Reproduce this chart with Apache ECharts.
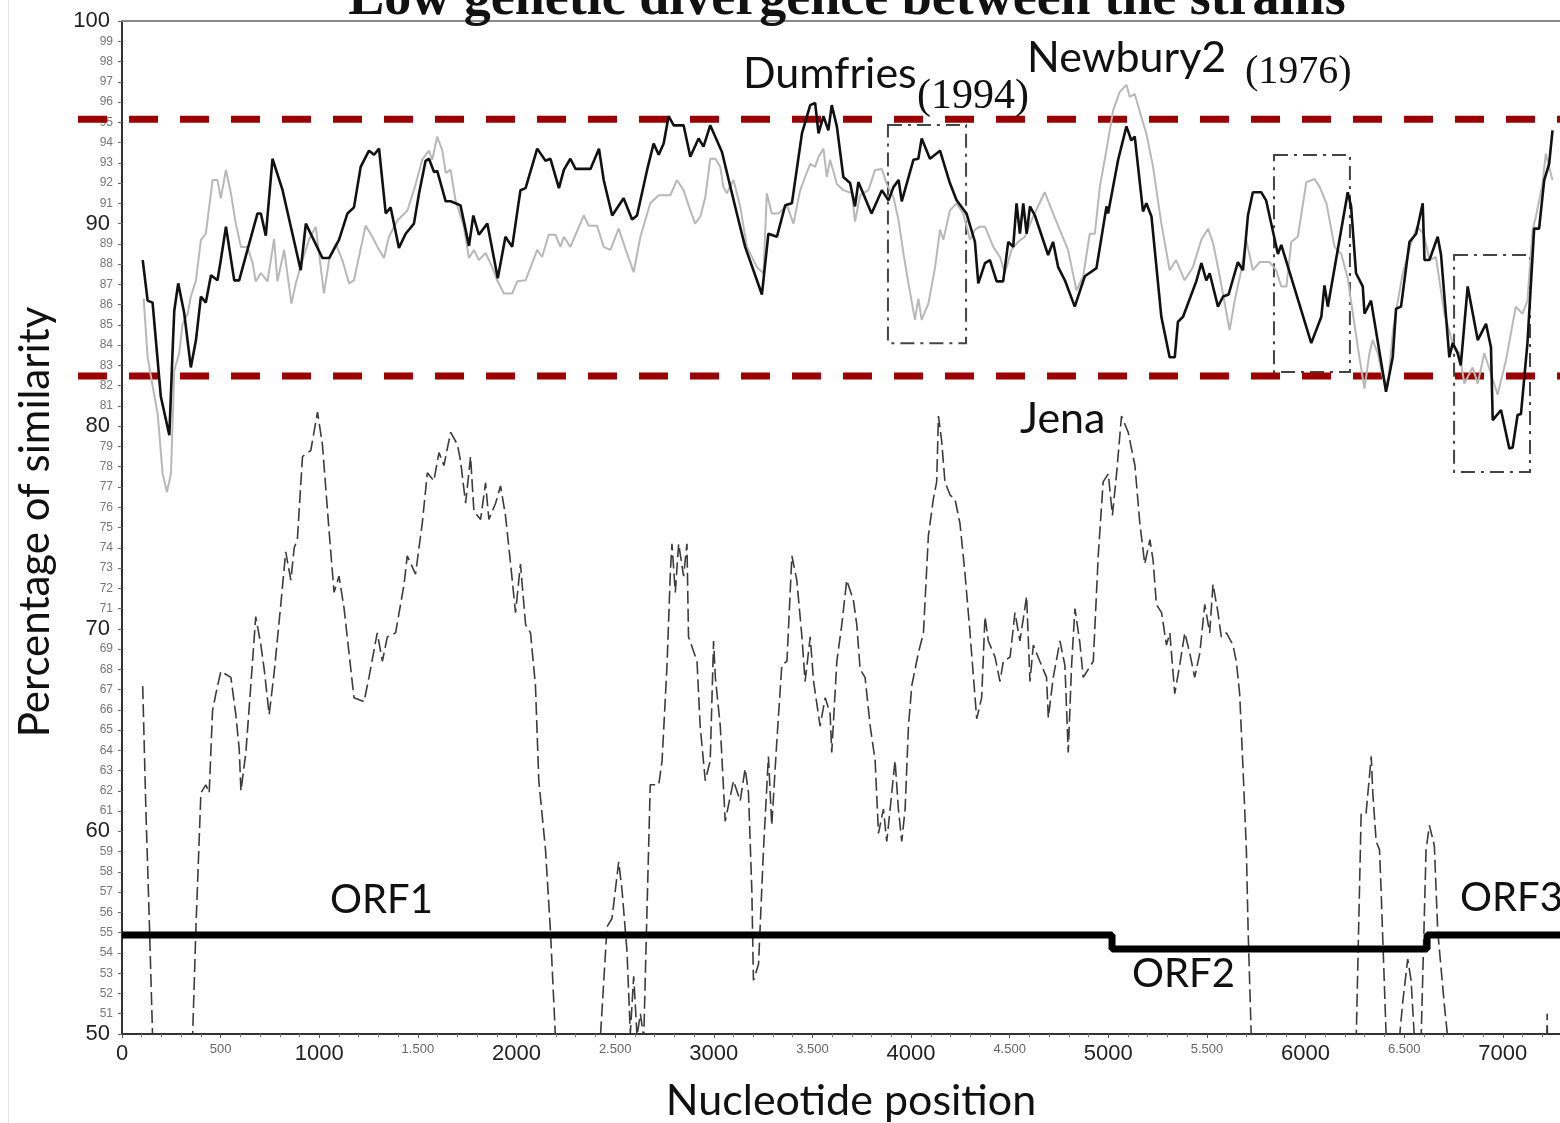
<!DOCTYPE html>
<html><head><meta charset="utf-8">
<script src="https://cdn.jsdelivr.net/npm/echarts@6.0.0/dist/echarts.min.js"></script>
<style>html,body{margin:0;padding:0;background:#fff}#c{width:1560px;height:1123px}</style>
</head><body><div id="c"></div>
<script>
// ---- data: [nucleotide position, % similarity] ----
const dumfries = [[105,88.2],[130,86.2],[155,86.1],[197,81.45],[240,79.55],[256,83.6],[265,85.7],[285,87.05],[315,85.6],[349,82.9],[375,84.25],[400,86.4],[425,86.1],[451,87.45],[484,87.2],[501,88.2],[527,89.85],[569,87.2],[594,87.2],[636,88.7],[687,90.5],[704,90.5],[729,89.4],[763,93.2],[814,91.65],[906,87.7],[932,90.0],[1016,88.3],[1050,88.3],[1100,89.2],[1143,90.5],[1176,90.8],[1210,92.8],[1252,93.6],[1278,93.4],[1303,93.7],[1337,90.5],[1362,90.8],[1404,88.8],[1438,89.5],[1480,90.0],[1506,91.5],[1539,93.1],[1556,93.2],[1582,92.55],[1598,92.6],[1641,91.1],[1666,91.1],[1716,90.9],[1759,88.9],[1781,90.4],[1809,89.45],[1852,90.0],[1905,87.3],[1944,89.35],[1978,88.85],[2020,91.65],[2046,91.75],[2105,93.7],[2147,93.1],[2172,93.2],[2215,91.75],[2240,92.65],[2273,93.2],[2299,92.7],[2375,92.7],[2418,93.7],[2442,92.15],[2485,90.4],[2543,91.25],[2586,90.2],[2611,90.4],[2662,92.65],[2695,93.95],[2721,93.4],[2746,93.95],[2771,95.3],[2797,94.85],[2847,94.85],[2881,93.3],[2923,94.2],[2948,93.8],[2982,94.85],[3041,93.55],[3117,90.5],[3159,88.85],[3201,87.7],[3244,86.5],[3277,89.5],[3320,89.35],[3362,90.9],[3396,91.0],[3447,94.45],[3489,95.85],[3514,95.95],[3531,94.45],[3556,95.3],[3581,94.6],[3598,95.85],[3624,94.8],[3657,92.3],[3691,92.0],[3716,90.85],[3733,92.05],[3800,90.5],[3852,91.65],[3886,91.15],[3911,91.8],[3937,92.15],[3953,91.1],[4012,93.15],[4037,93.2],[4054,94.2],[4096,93.2],[4147,93.6],[4197,92.0],[4231,91.15],[4281,90.5],[4324,89.1],[4341,87.05],[4375,88.05],[4400,88.2],[4434,87.15],[4467,87.15],[4493,89.1],[4518,88.85],[4535,91.0],[4552,89.5],[4569,91.0],[4586,89.5],[4603,90.85],[4628,90.4],[4695,88.45],[4720,89.1],[4746,87.85],[4780,87.2],[4830,85.9],[4881,87.4],[4940,87.8],[4991,90.85],[4999,90.5],[5050,93.15],[5092,94.8],[5117,94.1],[5134,94.3],[5176,90.6],[5193,91.0],[5219,90.35],[5269,85.4],[5311,83.4],[5337,83.4],[5353,85.15],[5379,85.4],[5446,87.15],[5472,88.05],[5497,87.2],[5514,87.55],[5556,85.9],[5582,86.4],[5610,86.5],[5657,88.1],[5683,87.7],[5708,90.4],[5733,91.55],[5775,91.55],[5800,91.15],[5860,88.5],[5877,88.95],[6029,84.1],[6080,85.4],[6096,86.95],[6113,85.9],[6214,91.55],[6231,90.85],[6256,87.55],[6290,86.9],[6299,85.55],[6332,86.2],[6408,81.7],[6442,83.4],[6459,85.8],[6484,85.9],[6527,89.1],[6561,89.5],[6594,91.0],[6603,88.2],[6628,88.2],[6670,89.35],[6687,88.45],[6729,83.4],[6746,84.1],[6771,83.6],[6787,83.0],[6822,86.9],[6873,84.25],[6915,85.05],[6940,83.9],[6949,80.3],[6991,80.8],[7033,78.9],[7050,78.95],[7075,80.55],[7092,80.6],[7125,84.1],[7159,89.75],[7184,89.75],[7210,92.15],[7235,92.95],[7252,94.6]];

const newbury2 = [[110,86.3],[130,83.4],[155,82.0],[181,80.6],[206,77.65],[228,76.75],[248,77.65],[265,82.75],[290,83.6],[307,85.05],[333,85.55],[349,86.4],[375,87.2],[400,89.2],[425,89.5],[459,92.15],[484,92.15],[501,91.25],[527,92.65],[552,91.5],[577,90.0],[603,88.85],[636,88.85],[662,88.05],[678,87.15],[704,87.55],[738,87.15],[771,89.25],[788,87.15],[822,88.7],[859,86.05],[881,87.05],[915,88.2],[948,89.2],[982,89.85],[1024,86.55],[1050,88.2],[1084,89.0],[1117,88.2],[1151,87.05],[1176,87.2],[1235,89.9],[1269,89.35],[1295,88.85],[1328,88.3],[1353,89.35],[1396,90.15],[1447,90.65],[1489,91.95],[1522,93.15],[1556,93.6],[1573,93.15],[1598,94.3],[1624,93.6],[1641,92.5],[1666,92.65],[1691,91.15],[1733,89.85],[1759,88.3],[1784,88.7],[1809,88.2],[1843,88.55],[1875,87.9],[1902,87.2],[1936,86.55],[1978,86.55],[2004,87.15],[2046,87.2],[2105,88.7],[2130,88.35],[2163,89.45],[2197,89.45],[2223,88.85],[2240,89.35],[2273,88.85],[2341,90.4],[2366,89.9],[2408,89.9],[2442,88.85],[2476,88.7],[2518,89.75],[2552,88.75],[2594,87.6],[2628,89.35],[2678,91.0],[2721,91.4],[2780,91.4],[2813,92.15],[2847,91.65],[2881,90.65],[2906,90.0],[2932,90.35],[2957,91.3],[2982,93.2],[3008,93.2],[3033,92.8],[3049,91.8],[3066,91.5],[3100,92.15],[3134,90.85],[3168,88.85],[3219,87.85],[3252,87.55],[3269,91.5],[3294,90.5],[3328,90.5],[3371,90.9],[3404,90.0],[3438,91.65],[3463,92.3],[3489,92.95],[3514,92.8],[3531,93.3],[3556,93.7],[3573,92.3],[3590,93.15],[3624,91.95],[3657,91.65],[3700,91.5],[3716,90.1],[3742,91.4],[3784,91.65],[3818,92.65],[3852,92.7],[3877,91.95],[3911,91.3],[3937,90.15],[3962,88.5],[3987,87.05],[4020,85.25],[4037,86.3],[4054,85.25],[4088,86.05],[4122,87.85],[4147,89.7],[4164,89.2],[4197,90.65],[4231,91.0],[4265,90.5],[4299,89.2],[4324,89.7],[4349,89.85],[4375,89.85],[4417,88.85],[4451,88.35],[4476,87.55],[4509,88.7],[4543,89.1],[4577,89.35],[4619,90.35],[4678,91.55],[4720,90.5],[4762,89.5],[4796,88.7],[4839,86.7],[4873,87.4],[4906,89.5],[4932,89.5],[4957,91.8],[4991,93.65],[5025,95.6],[5058,96.5],[5092,96.85],[5109,96.25],[5134,96.4],[5168,95.25],[5193,94.45],[5227,92.8],[5269,90.0],[5311,87.7],[5344,88.2],[5387,87.2],[5429,87.85],[5472,89.2],[5506,89.75],[5532,89.0],[5565,87.4],[5615,84.75],[5641,86.2],[5674,87.7],[5699,89.2],[5733,87.7],[5767,88.1],[5818,88.1],[5851,87.7],[5877,86.9],[5903,86.9],[5928,89.1],[5961,89.35],[6004,92.05],[6046,92.2],[6072,91.8],[6106,91.0],[6147,88.85],[6181,88.5],[6214,87.3],[6240,85.55],[6273,83.4],[6299,81.85],[6324,83.6],[6341,84.25],[6366,83.6],[6391,82.45],[6417,81.95],[6442,84.6],[6459,85.7],[6493,87.55],[6534,89.0],[6565,89.85],[6599,89.5],[6628,88.2],[6661,88.35],[6704,85.55],[6746,84.1],[6780,83.6],[6805,82.1],[6847,82.9],[6873,82.1],[6906,83.6],[6940,82.6],[6974,81.55],[7016,83.25],[7066,85.9],[7100,85.55],[7125,86.2],[7151,89.7],[7168,90.35],[7201,91.95],[7218,93.45],[7235,92.8],[7252,92.15]];

const jena = [[105,67.17],[121,61.1],[138,55.7],[155,49.9],[175,40],[330,40],[358,49.9],[375,55.3],[400,61.9],[425,62.3],[442,61.9],[459,65.96],[476,66.8],[501,67.9],[552,67.6],[577,65.76],[594,64.1],[603,62.0],[628,63.9],[653,67.2],[678,70.6],[704,69.2],[721,68.0],[746,65.76],[771,67.8],[805,71.2],[830,73.8],[856,72.4],[873,74.0],[889,74.4],[915,78.5],[957,78.8],[991,80.7],[1016,79.1],[1050,74.8],[1075,71.8],[1100,72.6],[1126,71.0],[1176,66.6],[1227,66.4],[1252,67.6],[1294,69.8],[1320,68.4],[1345,69.6],[1387,69.8],[1430,72.2],[1446,73.6],[1488,72.7],[1522,75.2],[1548,77.7],[1581,77.3],[1607,78.7],[1632,78.06],[1666,79.7],[1700,79.1],[1716,78.3],[1742,76.2],[1767,78.5],[1784,75.8],[1818,75.4],[1843,77.2],[1860,75.4],[1894,76.2],[1919,77.05],[1944,75.6],[1970,73.2],[1995,70.8],[2020,73.2],[2046,70.2],[2071,69.8],[2096,67.2],[2113,62.5],[2147,59.1],[2172,55.1],[2197,49.9],[2215,40],[2400,40],[2425,49.8],[2459,55.3],[2484,55.7],[2518,58.5],[2535,57.1],[2560,54.1],[2577,50.03],[2594,52.85],[2611,49.9],[2628,51.0],[2645,49.8],[2662,56.3],[2678,62.3],[2721,62.3],[2738,63.5],[2763,68.2],[2780,72.8],[2788,74.2],[2805,71.8],[2822,74.2],[2847,72.6],[2864,74.2],[2872,69.6],[2915,68.4],[2931,65.2],[2957,62.5],[2982,63.5],[2999,69.4],[3008,67.6],[3033,65.2],[3058,60.5],[3100,62.5],[3134,61.5],[3159,63.1],[3176,61.9],[3193,57.1],[3201,52.65],[3227,53.45],[3252,59.1],[3277,63.7],[3294,60.3],[3320,64.5],[3345,68.2],[3371,68.4],[3396,73.6],[3421,72.4],[3447,69.6],[3463,67.4],[3489,69.6],[3506,67.4],[3539,65.2],[3565,66.6],[3590,65.8],[3598,63.9],[3624,68.4],[3649,70.2],[3674,72.4],[3708,71.4],[3725,70.2],[3742,68.0],[3767,67.6],[3793,65.2],[3818,63.5],[3835,59.9],[3860,61.1],[3877,59.5],[3894,61.1],[3919,63.5],[3936,61.1],[3953,59.5],[3970,61.1],[3987,65.2],[4004,67.2],[4037,68.8],[4063,69.8],[4088,74.6],[4113,76.4],[4130,77.25],[4139,80.5],[4155,79.3],[4172,77.25],[4198,76.6],[4223,76.4],[4248,75.2],[4273,72.8],[4299,69.8],[4333,65.56],[4358,66.6],[4375,70.6],[4392,69.4],[4426,68.6],[4451,67.4],[4468,68.4],[4502,68.6],[4527,70.8],[4552,69.4],[4586,71.6],[4603,67.4],[4620,69.2],[4653,68.4],[4687,67.6],[4696,65.6],[4721,67.6],[4755,69.4],[4780,68.2],[4797,63.9],[4814,68.2],[4831,71.0],[4856,69.3],[4873,67.6],[4924,68.4],[4949,73.6],[4974,77.25],[5000,77.65],[5021,75.6],[5042,77.65],[5067,80.5],[5101,79.7],[5135,78.06],[5160,75.2],[5185,73.2],[5211,74.4],[5227,73.4],[5244,71.2],[5270,70.8],[5295,69.2],[5312,69.8],[5337,66.8],[5362,68.2],[5388,69.8],[5413,68.8],[5438,67.6],[5464,68.8],[5489,71.2],[5514,69.8],[5531,72.2],[5556,70.8],[5573,69.6],[5599,69.8],[5632,69.2],[5649,68.4],[5666,66.8],[5683,63.1],[5700,59.1],[5709,55.1],[5725,49.8],[5740,40],[6240,40],[6257,49.8],[6282,60.9],[6307,60.9],[6333,63.7],[6341,61.9],[6358,59.5],[6375,59.1],[6383,57.1],[6409,49.8],[6425,45],[6460,45],[6476,49.8],[6493,51.6],[6518,53.7],[6535,52.65],[6552,49.8],[6565,47],[6575,47],[6586,49.8],[6611,59.1],[6628,60.3],[6653,59.3],[6670,55.1],[6704,51.4],[6721,49.8],[6735,45],[7215,45],[7225,51.0],[7232,45]];

// open reading frames: [position, level]
const orfPath = [[0,54.89],[5019,54.89],[5019,54.2],[6616,54.2],[6616,54.89],[7290,54.89]];
// highlighted regions: [[x1,y1],[x2,y2]]
const boxes = [[[3883,94.87],[4279,84.1]],[[5840,93.39],[6225,82.67]],[[6753,88.45],[7138,77.74]]];
// threshold levels
const thresholds = [95.15, 82.48];

const chart = echarts.init(document.getElementById('c'));
const xFmt = v => {
  if (v % 500 !== 0) return '';
  if (v % 1000 === 0) return '{big|' + v + '}';
  return '{small|' + (v >= 1000 ? Math.floor(v/1000) + '.' + String(v%1000).padStart(3,'0') : v) + '}';
};
chart.setOption({
  animation: false,
  grid: {left: 122, right: 0, top: 21, bottom: 89, containLabel: false},
  xAxis: [{
    type: 'value', min: 0, max: 7290, interval: 500, position: 'bottom',
    axisLine: {lineStyle: {color: '#333', width: 2}},
    axisTick: {show: true, length: 4, lineStyle: {color: '#555'}},
    minorTick: {show: true, splitNumber: 5, length: 3, lineStyle: {color: '#777'}},
    splitLine: {show: false},
    axisLabel: {margin: 9, showMaxLabel: false, formatter: xFmt,
      rich: {big: {fontSize: 22, color: '#222', fontFamily: 'Liberation Sans'},
             small: {fontSize: 13, color: '#666', fontFamily: 'Liberation Sans'}}}
  }, {
    type: 'value', min: 0, max: 7290, position: 'top',
    axisLine: {lineStyle: {color: '#8a8a8a', width: 2}},
    axisTick: {show: false}, axisLabel: {show: false}, splitLine: {show: false}
  }],
  yAxis: {
    type: 'value', min: 50, max: 100, interval: 1,
    axisLine: {show: true, lineStyle: {color: '#333', width: 2}},
    axisTick: {show: true, length: 4, lineStyle: {color: '#666'}},
    splitLine: {show: false},
    axisLabel: {margin: 9,
      formatter: v => v % 10 === 0 ? '{big|' + v + '}' : '{small|' + v + '}',
      rich: {big: {fontSize: 22, color: '#222', fontFamily: 'Liberation Sans', padding: [0, 3, 0, 0]},
             small: {fontSize: 12, color: '#777', fontFamily: 'Liberation Sans'}}}
  },
  series: [
    {type: 'line', data: jena, symbol: 'none', z: 2, lineStyle: {color: '#3c3c3c', width: 1.6, type: [13, 5]}},
    {type: 'line', data: newbury2, symbol: 'none', z: 3, lineStyle: {color: '#b8b8b8', width: 2}},
    {type: 'line', data: dumfries, symbol: 'none', z: 4, lineStyle: {color: '#111', width: 2.6},
      markArea: {silent: true, itemStyle: {color: 'rgba(0,0,0,0)', borderColor: '#444', borderWidth: 2, borderType: [14, 6, 3, 6]},
        data: boxes.map(b => [{coord: b[0]}, {coord: b[1]}])}},
    {type: 'line', data: orfPath, symbol: 'none', z: 5, lineStyle: {color: '#000', width: 7}}
  ]
});

function txt(text, x, y, font, align, extra) {
  return Object.assign({type: 'text', x: x, y: y, z: 100,
    style: {text: text, font: font, fill: '#111', textAlign: align || 'left', align: align || 'left',
            textVerticalAlign: 'middle', verticalAlign: 'middle'}}, extra || {});
}
const lato = '40px Lato';
const latoL = '43px Lato';
const graphics = [
  {type: 'line', shape: {x1: 8.5, y1: 0, x2: 8.5, y2: 1123}, style: {stroke: '#e2e2e2', lineWidth: 1}, z: 0},
  txt('Low genetic divergence between the strains', 847, 0, 'bold 54px "Liberation Serif"', 'center'),
  txt('Dumfries', 743, 74, latoL),
  txt('(1994)', 917, 97, '42px "Liberation Serif"'),
  txt('Newbury2', 1027, 58, latoL),
  txt('(1976)', 1245, 72, '40px "Liberation Serif"'),
  txt('Jena', 1020, 419, latoL),
  txt('ORF1', 330, 900, lato),
  txt('ORF2', 1132, 974, lato),
  txt('ORF3', 1460, 898, lato),
  txt('Nucleotide position', 851, 1101, '43px Lato', 'center'),
  txt('Percentage of similarity', 35, 522, '42px Lato', 'center', {rotation: Math.PI / 2})
];
thresholds.forEach(t => {
  const y = chart.convertToPixel({yAxisIndex: 0}, t);
  graphics.push({type: 'line', z: 1, shape: {x1: 78, y1: y, x2: 1560, y2: y},
    style: {stroke: '#9a0000', lineWidth: 7, lineDash: [29, 22]}});
});
chart.setOption({graphic: graphics});
</script>
</body></html>
